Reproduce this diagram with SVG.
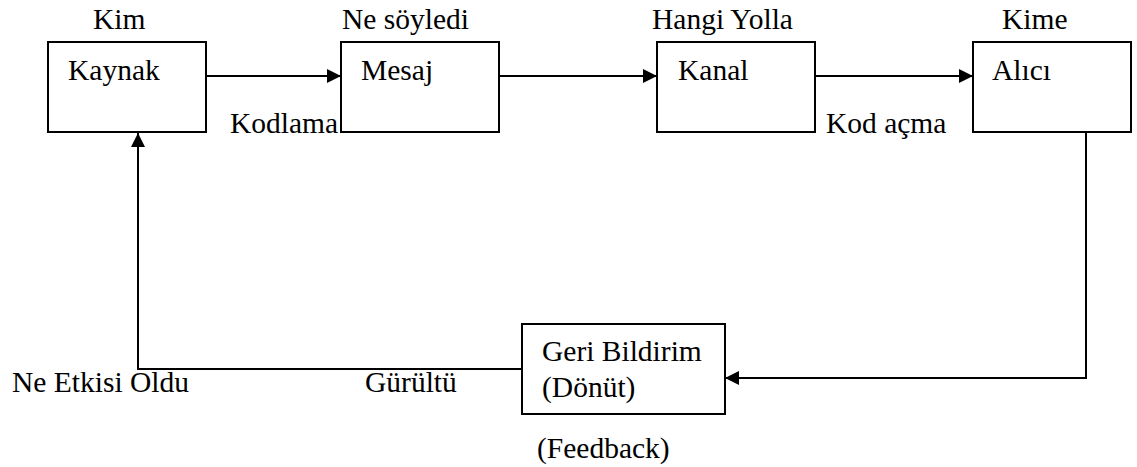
<svg xmlns="http://www.w3.org/2000/svg" width="1137" height="467" viewBox="0 0 1137 467">
<style>
text{font-family:'Liberation Serif','Tinos','Times New Roman','DejaVu Serif',serif;font-size:29.5px;fill:#000}
.box{fill:#fff;stroke:#000;stroke-width:2}
.ln{fill:none;stroke:#000;stroke-width:2}
</style>
<defs>
<marker id="ah" viewBox="0 0 14 14" refX="14" refY="7" markerWidth="14" markerHeight="14" markerUnits="userSpaceOnUse" orient="auto">
<path d="M0,0 L14,7 L0,14 Z" fill="#000"/>
</marker>
</defs>
<rect width="1137" height="467" fill="#fff"/>
<g id="connectors">
<line class="ln" x1="206" y1="76" x2="341" y2="76" marker-end="url(#ah)"/>
<line class="ln" x1="499" y1="76" x2="657" y2="76" marker-end="url(#ah)"/>
<line class="ln" x1="815" y1="76" x2="973" y2="76" marker-end="url(#ah)"/>
<polyline class="ln" points="1086,132 1086,378 725,378" marker-end="url(#ah)"/>
<polyline class="ln" points="522,369 138,369 138,133" marker-end="url(#ah)"/>
</g>
<g id="kaynak">
<rect class="box" x="48" y="42" width="158" height="90"/>
<text x="68" y="80" font-family="Liberation Serif, serif">Kaynak</text>
</g>
<g id="mesaj">
<rect class="box" x="341" y="42" width="158" height="90"/>
<text x="361" y="80">Mesaj</text>
</g>
<g id="kanal">
<rect class="box" x="657" y="42" width="158" height="90"/>
<text x="678" y="80">Kanal</text>
</g>
<g id="alici">
<rect class="box" x="973" y="42" width="158" height="90"/>
<text x="992" y="80">Alıcı</text>
</g>
<g id="geri-bildirim">
<rect class="box" x="522" y="324" width="203" height="90"/>
<text x="542" y="361">Geri Bildirim</text>
<text x="542" y="397">(Dönüt)</text>
</g>
<g id="labels">
<text x="93" y="29">Kim</text>
<text x="342" y="29">Ne söyledi</text>
<text x="652" y="29">Hangi Yolla</text>
<text x="1002" y="29">Kime</text>
<text x="230" y="133">Kodlama</text>
<text x="826" y="133">Kod açma</text>
<text x="12" y="392">Ne Etkisi Oldu</text>
<text x="365" y="392">Gürültü</text>
<text x="537" y="458">(Feedback)</text>
</g>
</svg>
